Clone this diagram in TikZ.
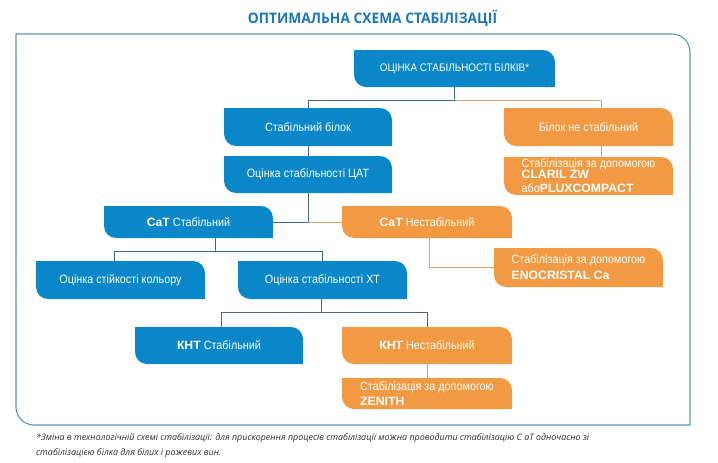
\documentclass[tikz,border=0pt]{standalone}
\usepackage{fontspec}
\setmainfont[FakeStretch=0.9]{Liberation Sans}
\newfontfamily\heavyfont[FakeStretch=1.02]{Liberation Sans}
\newfontfamily\titlefont[FakeStretch=0.95]{Open Sans}
\newfontfamily\notefont{Open Sans}
\usetikzlibrary{positioning, calc}

\definecolor{boxblue}{HTML}{0A87C9}
\definecolor{boxorange}{HTML}{F29A43}
\definecolor{lineblue}{HTML}{3C6A88}
\definecolor{lineorange}{HTML}{D9A26A}
\definecolor{framecol}{HTML}{5C93B8}
\definecolor{titleblue}{HTML}{1C75BC}
\definecolor{notegray}{HTML}{2B2B2B}

\newcommand{\hv}[1]{{\heavyfont\bfseries #1}}

\tikzset{
    leaf/.style={rectangle, inner sep=0pt, minimum width=169pt, minimum height=37pt,
        text=white, font=\fontsize{12}{12.5}\selectfont,
        path picture={\fill[#1] (path picture bounding box.north west)
            -- ([xshift=-12pt]path picture bounding box.north east)
            arc[start angle=90, end angle=0, radius=12pt]
            -- (path picture bounding box.south east)
            -- ([xshift=12pt]path picture bounding box.south west)
            arc[start angle=270, end angle=180, radius=12pt] -- cycle;}},
    bluebox/.style={leaf=boxblue},
    orangebox/.style={leaf=boxorange},
    bline/.style={draw=lineblue, line width=0.8pt},
    oline/.style={draw=lineorange, line width=0.8pt},
}

\begin{document}
\begin{tikzpicture}[x=1pt, y=-1pt]
        \useasboundingbox (0,0) rectangle (718,463);
        \draw[framecol, line width=1.1pt] (16,34) -- (672,34) arc[start angle=90, end angle=0, radius=18pt]
            -- (690,425) -- (34,425) arc[start angle=270, end angle=180, radius=18pt] -- cycle;
        \node[font=\titlefont\bfseries\fontsize{14.5}{16}\selectfont, text=titleblue] (title) at (372.5,18) {ОПТИМАЛЬНА СХЕМА СТАБІЛІЗАЦІЇ};

        % boxes
        \node[bluebox, minimum width=201pt, font=\fontsize{11}{12}\selectfont] (top) at (454.5,68.5) {ОЦІНКА СТАБІЛЬНОСТІ БІЛКІВ*};
        \node[bluebox, minimum width=168pt, minimum height=38pt] (sb) at (308,127) {Стабільний білок};
        \node[orangebox, minimum height=38pt] (bns) at (588.5,127) {Білок не стабільний};
        \node[orangebox, minimum height=38pt, align=left] (claril) at (588.5,176) {Стабілізація за допомогою\\[-2pt]\hv{CLARIL ZW}\\[2pt]або\hv{PLUXCOMPACT}};
        \node[bluebox, minimum width=168pt] (cat) at (308,174.5) {Оцінка стабільності ЦАТ};
        \node[bluebox, minimum height=32pt] (catok) at (188.5,222) {\hv{CaT} Стабільний};
        \node[orangebox, minimum width=170pt, minimum height=32pt] (catbad) at (427,222) {\hv{CaT} Нестабільний};
        \node[orangebox, minimum height=39pt, align=left] (enocr) at (578.5,267.5) {Стабілізація за допомогою\\[3.5pt]\hv{ENOCRISTAL Ca}};
        \node[bluebox, minimum height=38pt] (colour) at (120.5,280) {Оцінка стійкості кольору};
        \node[bluebox, minimum height=38pt] (xt) at (322.5,280) {Оцінка стабільності ХТ};
        \node[bluebox, minimum width=168pt] (kntok) at (219,345.5) {\hv{КНТ} Стабільний};
        \node[orangebox, minimum width=170pt] (kntbad) at (427,345.5) {\hv{КНТ} Нестабільний};
        \node[orangebox, minimum width=170pt, minimum height=31pt, align=left] (zenith) at (427,393.5) {Стабілізація за допомогою\\[2.5pt]\hv{ZENITH}};

        % connectors
        \draw[bline] (top.south) -- ++(0,13) coordinate (fork1) -| (sb.north);
        \draw[oline] (fork1) -| ([xshift=12.5pt]bns.north);
        \draw[oline] ([xshift=12.5pt]bns.south) -- ([xshift=12.5pt]claril.north);
        \draw[bline] (sb.south) -- (cat.north);
        \draw[bline] (cat.south) |- (catok.east);
        \draw[oline] (catok.east -| cat.south) -- (catbad.west);
        \draw[oline] ([xshift=2pt]catbad.south) |- (enocr.west);
        \draw[bline] ([xshift=26.5pt]catok.south) -- ++(0,13) coordinate (fork2);
        \draw[bline] ([xshift=-6.5pt]colour.north) |- (fork2) -| (xt.north);
        \draw[bline] ([xshift=-1.5pt]xt.south) -- ++(0,13) coordinate (fork3);
        \draw[bline] ([xshift=2pt]kntok.north) |- (fork3) -| (kntbad.north);
        \draw[oline] (kntbad.south) -- (zenith.north);

        \node[anchor=base west, align=left, inner sep=0pt, text=notegray,
            font=\notefont\itshape\fontsize{8.9}{15}\selectfont] (note) at (36,455.5)
            {*Зміна в технологічній схемі стабілізації: для прискорення процесів стабілізації можна проводити стабілізацію С аТ одночасно зі\\стабілізацією білка для білих і рожевих вин.};
\end{tikzpicture}
\end{document}
